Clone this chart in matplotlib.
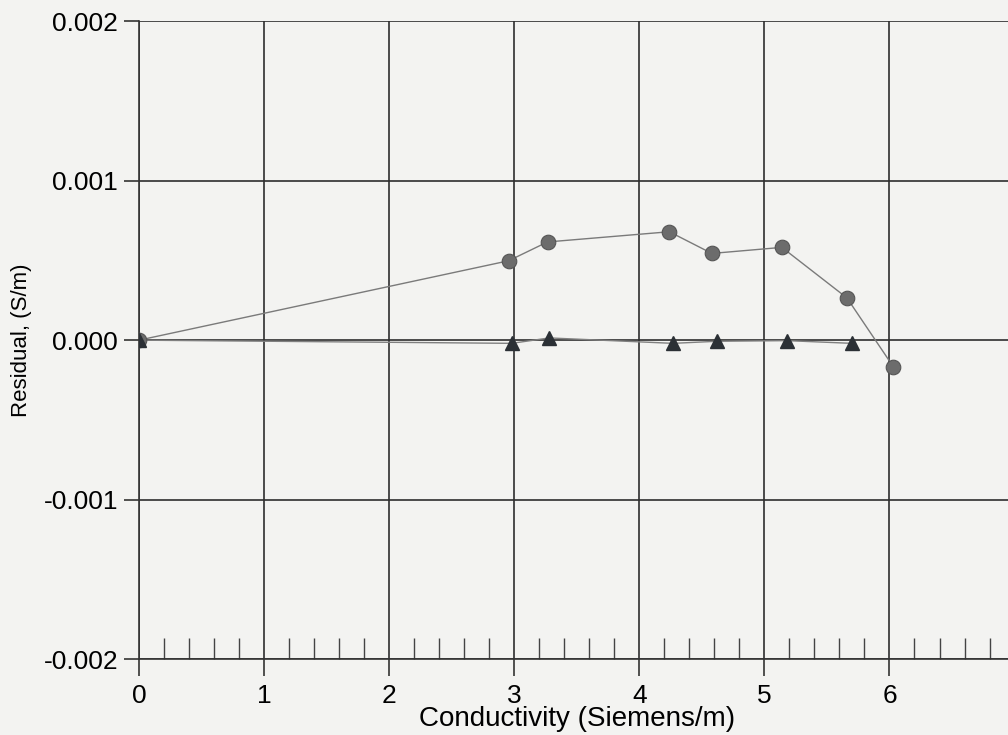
import numpy as np
import matplotlib.pyplot as plt
from matplotlib.ticker import MultipleLocator, FixedFormatter

plt.rcParams['font.family'] = ['Liberation Sans', 'DejaVu Sans']

# residuals of the two calibration fits against conductivity
cond_a = [0.0, 2.955, 3.266, 4.24, 4.58, 5.14, 5.66, 6.03]
resid_a = [0.0, 0.000498, 0.000616, 0.00068, 0.000544, 0.000582, 0.000265, -0.000166]

cond_b = [0.0, 2.98, 3.28, 4.27, 4.62, 5.18, 5.70]
resid_b = [0.0, -0.00002, 0.000014, -0.00002, -0.000007, -0.000003, -0.00002]

x_ticks = [0, 1, 2, 3, 4, 5, 6, 7]
x_labels = ['0', '1', '2', '3', '4', '5', '6', '']
y_ticks = [-0.002, -0.001, 0.0, 0.001, 0.002]
y_labels = ['-0.002', '-0.001', '0.000', '0.001', '0.002']

BG = '#f3f3f1'

fig = plt.figure(figsize=(10.08, 7.35), dpi=100, facecolor=BG)
# the axes runs to x=7, a little past the right edge of the page
ax = fig.add_axes([0.1379, 0.1034, 0.8686, 0.8676], facecolor=BG)

ax.set_xlim(0, 7)
ax.set_ylim(-0.002, 0.002)

ax.plot(cond_a, resid_a, color='#7a7a7a', lw=1.0, zorder=3)
ax.plot(cond_a, resid_a, 'o', ms=10.5, mfc='#6c6c6c', mec='#555555', mew=0.8, zorder=4)
ax.plot(cond_b, resid_b, color='#808080', lw=1.0, zorder=3)
ax.plot(cond_b, resid_b, '^', ms=10, mfc='#2b3035', mec='#2b3035', zorder=5)

for s in ['top', 'right']:
    ax.spines[s].set_visible(False)
for s in ['left', 'bottom']:
    ax.spines[s].set_color('#333333')
    ax.spines[s].set_linewidth(1.2)

ax.set_xticks(x_ticks)
ax.xaxis.set_major_formatter(FixedFormatter(x_labels))
ax.set_yticks(y_ticks)
ax.yaxis.set_major_formatter(FixedFormatter(y_labels))
ax.xaxis.set_minor_locator(MultipleLocator(0.2))
ax.grid(True, which='major', color='#2e2e2e', lw=1.2, zorder=1)

ax.tick_params(axis='x', which='major', direction='out', length=12, width=1.2,
               color='#333333', labelsize=19, pad=6)
ax.tick_params(axis='x', which='minor', direction='in', length=15, width=1.0,
               color='#444444')
ax.tick_params(axis='y', which='major', direction='out', length=11, width=1.2,
               color='#333333', labelsize=19, pad=4)

ax.set_xlabel('Conductivity (Siemens/m)', fontsize=20)
ax.set_ylabel('Residual, (S/m)', fontsize=16, labelpad=8)
ax.xaxis.set_label_coords(0.5, -0.073)

fig.savefig('out.png', dpi=100, facecolor=BG)
